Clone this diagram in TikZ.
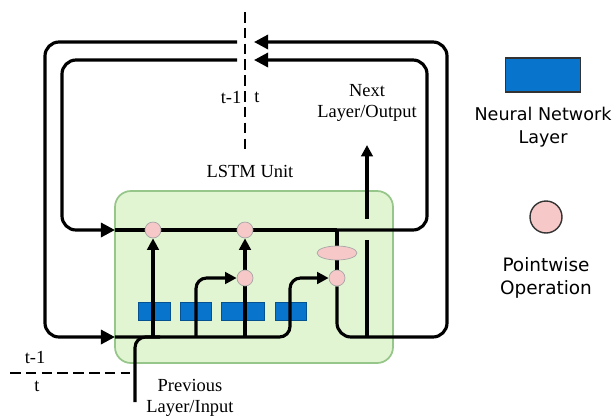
\documentclass[tikz,border=0pt]{standalone}
\usepackage{fontspec}
\setmainfont{Liberation Serif}
\newfontfamily\legendfont{DejaVu Sans}
\usetikzlibrary{arrows.meta,shapes.geometric,positioning}
\definecolor{nnblue}{RGB}{8,116,204}
\definecolor{pwpink}{RGB}{247,200,200}
\definecolor{cellgreen}{RGB}{226,245,210}
\definecolor{cellborder}{RGB}{150,198,138}
\pgfdeclarelayer{front}
\pgfsetlayers{main,front}

\begin{document}
\begin{tikzpicture}[x=0.02cm,y=-0.02cm,
    font=\fontsize{10.5}{12}\selectfont,
    wire/.style={line width=1.8pt},
    big/.style={-{Triangle[length=8pt,width=8pt]}},
    small/.style={-{Triangle[length=6.5pt,width=6.5pt]}},
    nnlayer/.style={rectangle, fill=nnblue, draw=nnblue!70!black, line width=0.3pt, minimum height=0.36cm, inner sep=0pt},
    pointwise/.style={circle, fill=pwpink, draw=gray!70, line width=0.4pt, minimum size=0.32cm, inner sep=0pt},
    cellbox/.style={rectangle, rounded corners=9pt, fill=cellgreen, draw=cellborder, line width=1pt},
    label/.style={align=center, inner sep=0pt}]
\useasboundingbox (0,0) rectangle (615,417);

\node[cellbox, minimum width=5.56cm, minimum height=3.44cm] (unit) at (254,277) {};
\node[nnlayer, minimum width=0.64cm] (nn1) at (154,311) {};
\node[nnlayer, minimum width=0.62cm] (nn2) at (196,311) {};
\node[nnlayer, minimum width=0.86cm] (nn3) at (243,311) {};
\node[nnlayer, minimum width=0.62cm] (nn4) at (291,311) {};

\begin{pgfonlayer}{front}
\node[pointwise] (pw1) at (153,230) {};
\node[pointwise] (pw2) at (245,230) {};
\node[pointwise] (pw3) at (245,278) {};
\node[pointwise] (pw4) at (337,278) {};
\node[ellipse, fill=pwpink, draw=gray!70, line width=0.4pt, minimum width=0.8cm, minimum height=0.28cm, inner sep=0pt] (tanh) at (337,253) {};
\end{pgfonlayer}

\coordinate (cin) at (115,230);
\coordinate (hin) at (115,337);
\coordinate (cleft) at (237,60);
\coordinate (hleft) at (237,42);
\coordinate (cright) at (254,60);
\coordinate (hright) at (254,42);
\coordinate (split) at (337,230);
\coordinate (outfoot) at (367,337);
\coordinate (outtop) at (367,145);
\coordinate (xin) at (135,402);

% loops back in time
\draw[wire, big, rounded corners=8pt] (cleft) -- (62,60) -- (62,230) -- (cin);
\draw[wire, big, rounded corners=8pt] (hleft) -- (45,42) -- (45,337) -- (hin);
\draw[wire] (cin) -- (pw1) -- (pw2) -- (split);
\draw[wire, big, rounded corners=8pt] (split) -- (427,230) -- (427,60) -- (cright);
\draw[wire, big, rounded corners=8pt] (pw4) -- (337,337) -- (447,337) -- (447,42) -- (hright);
% gates
\draw[wire, rounded corners=6pt] (xin) -- (135,337) -- (160,337);
\draw[wire, small, rounded corners=6pt] (hin) -- (290,337) -- (290,278) -- (pw4);
\draw[wire, small] (153,337) -- (pw1);
\draw[wire, small, rounded corners=6pt] (196,337) -- (196,278) -- (pw3);
\draw[wire] (245,337) -- (pw3);
\draw[wire, small] (pw3) -- (pw2);
\draw[wire] (split) -- (tanh) -- (pw4);
\draw[wire] (outfoot) -- (367,240);
\draw[wire, small] (367,219) -- (outtop);
% time split
\draw[line width=1.3pt, dash pattern=on 6pt off 3pt] (245,12) -- (245,153);
\draw[line width=1.3pt, dash pattern=on 6pt off 3pt] (10,373) -- (130,373);

\node[label] (tprevtop) at (231,97) {t-1};
\node[label] (tnowtop) at (257,97) {t};
\node[label] (tprevbot) at (35,357) {t-1};
\node[label] (tnowbot) at (37,386) {t};
\node[label] (unitname) at (250,171) {LSTM Unit};
\node[label] (output) at (367,103) {Next\\Layer/Output};
\node[label] (input) at (190,398) {Previous\\Layer/Input};

% legend
\node[nnlayer, minimum width=1.5cm, minimum height=0.68cm, line width=0.8pt, draw=black!80] (keynn) at (543,75) {};
\node[label, font=\legendfont\fontsize{10}{13}\selectfont] (keynntext) at (543,127) {Neural Network\\Layer};
\node[pointwise, minimum size=0.64cm, draw=black!80, line width=0.8pt] (keypw) at (546,217) {};
\node[label, font=\legendfont\fontsize{10.5}{13}\selectfont] (keypwtext) at (546,278) {Pointwise\\Operation};
\end{tikzpicture}
\end{document}
